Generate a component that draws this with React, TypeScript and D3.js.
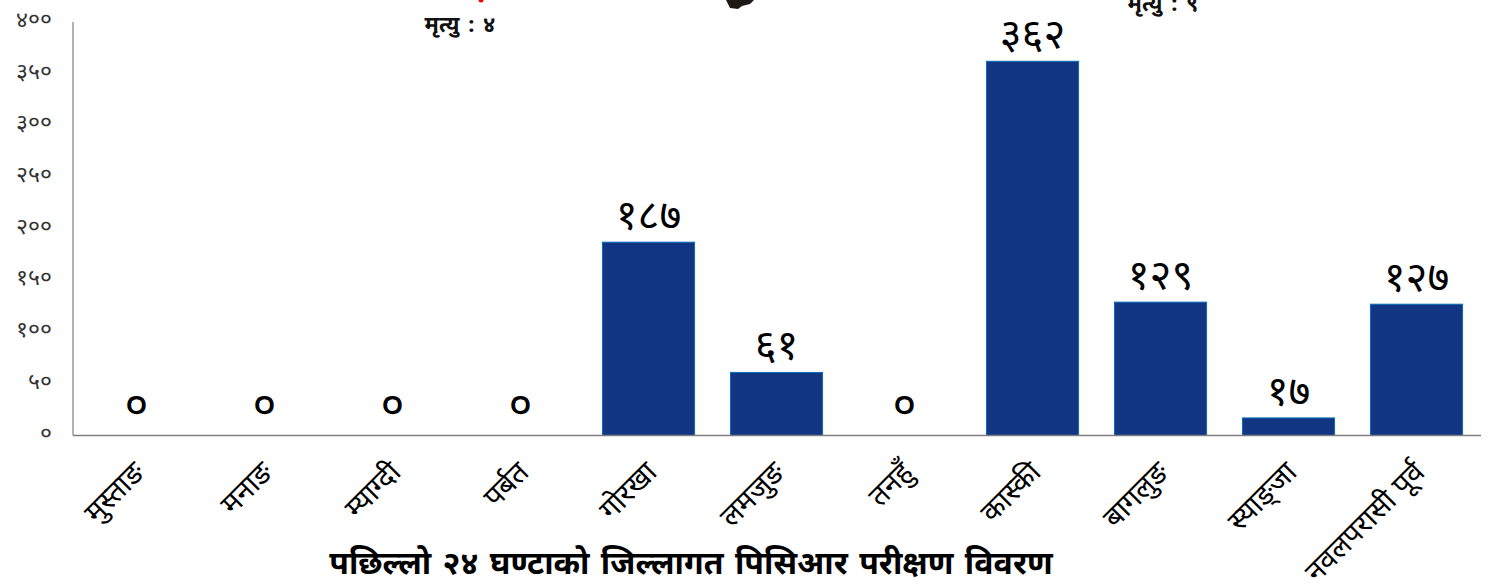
import React from "react";
import * as d3 from "d3";

const districts = ["मुस्ताङ", "मनाङ", "म्याग्दी", "पर्बत", "गोरखा", "लमजुङ", "तनहुँ", "कास्की", "बागलुङ", "स्याङ्जा", "नवलपरासी पूर्व"];
const tests = [0, 0, 0, 0, 187, 61, 0, 362, 129, 17, 127];
const testLabels = ["०", "०", "०", "०", "१८७", "६१", "०", "३६२", "१२९", "१७", "१२७"];
const yTicks = [0, 50, 100, 150, 200, 250, 300, 350, 400];
const yTickLabels = ["०", "५०", "१००", "१५०", "२००", "२५०", "३००", "३५०", "४००"];
const title = "पछिल्लो २४ घण्टाको जिल्लागत पिसिआर परीक्षण विवरण";
const deathNotes = [
  { text: "मृत्यु : ४", x: 460, y: 32 },
  { text: "मृत्यु : ९", x: 1163, y: 11 },
];

const W = 1493, H = 584;
const left = 73, right = 1481, top = 22, bottom = 435.5;
const font = "'Noto Sans', 'Noto Sans Devanagari', 'Lohit Devanagari', 'DejaVu Sans', sans-serif";

export default function App() {
  const x = d3.scaleBand<string>().domain(districts).range([left - 0.5, right - 0.5]).paddingInner(0.28).paddingOuter(0.14);
  const y = d3.scaleLinear().domain([0, 400]).range([bottom, top]);
  return (
    <svg width={W} height={H} style={{ position: "absolute", left: 0, top: 0, background: "#fff" }} fontFamily={font}>
      <path d="M726,0 L754,0 L750,4 L742,6 L738,9 L730,8 Z" fill="#1c1a17" />
      <circle cx={481} cy={0} r={2.5} fill="#f00" />
      {deathNotes.map((d) => (
        <text key={d.text} x={d.x} y={d.y} textAnchor="middle" fontSize={22} fontWeight={700} wordSpacing={3} fill="#111">{d.text}</text>
      ))}
      {districts.map((d, i) => (
        <rect key={d} x={x(d)} y={y(tests[i])} width={x.bandwidth()} height={bottom - y(tests[i])} fill="#123583" stroke="#0a6cb8" strokeWidth={1} opacity={tests[i] ? 1 : 0} />
      ))}
      <line x1={left} x2={left} y1={top} y2={bottom} stroke="#7f7f7f" strokeWidth={1.2} />
      <line x1={left} x2={right} y1={bottom} y2={bottom} stroke="#7f7f7f" strokeWidth={1.6} />
      {yTicks.map((t, i) => (
        <text key={t} x={52} y={y(t) + 5} textAnchor="end" fontSize={23} fill="#333">{yTickLabels[i]}</text>
      ))}
      {districts.map((d, i) => (
        <text key={d} x={x(d)! + x.bandwidth() / 2} y={y(tests[i]) - (tests[i] ? 13 : 16)} textAnchor="middle" fontSize={tests[i] ? 42 : 46} fill="#000">{testLabels[i]}</text>
      ))}
      {districts.map((d) => {
        const cx = x(d)! + x.bandwidth() / 2 + 10;
        return (
          <text key={d} transform={`translate(${cx},474) rotate(-45)`} textAnchor="end" fontSize={29} fill="#000">{d}</text>
        );
      })}
      <text x={691} y={574} textAnchor="middle" fontSize={32} fontWeight={700} wordSpacing={3} fill="#000">{title}</text>
    </svg>
  );
}
